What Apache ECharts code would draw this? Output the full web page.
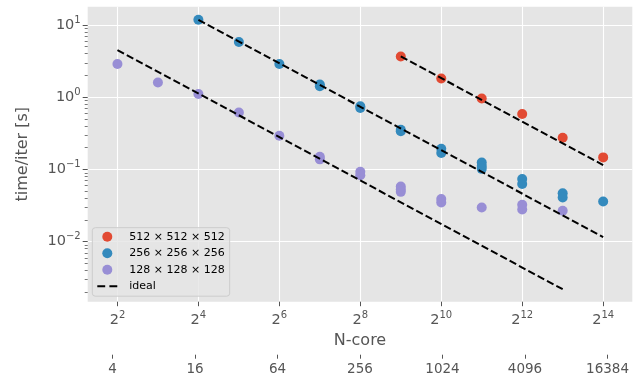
<!DOCTYPE html>
<html>
<head>
<meta charset="utf-8">
<script src="https://cdn.jsdelivr.net/npm/echarts@6/dist/echarts.min.js"></script>
<style>
  html, body { margin: 0; padding: 0; background: #fff; }
  #chart { width: 641px; height: 380px; }
</style>
</head>
<body>
<div id="chart"></div>
<script>
// strong scaling: number of cores vs seconds per iteration
const cores512 = [512, 1024, 2048, 4096, 8192, 16384];
const time512 = [3.67, 1.82, 0.962, 0.585, 0.275, 0.147];

const cores256 = [16, 32, 64, 128, 128, 256, 256, 512, 512, 1024, 1024, 2048, 2048, 2048, 4096, 4096, 8192, 8192, 16384];
const time256 = [11.8, 5.8, 2.88, 1.5, 1.42, 0.75, 0.71, 0.355, 0.338, 0.194, 0.169, 0.125, 0.112, 0.102, 0.074, 0.063, 0.047, 0.041, 0.036];

const cores128 = [4, 8, 16, 32, 64, 128, 128, 256, 256, 512, 512, 512, 1024, 1024, 2048, 4096, 4096, 8192];
const time128 = [2.88, 1.6, 1.11, 0.616, 0.293, 0.15, 0.138, 0.093, 0.083, 0.058, 0.053, 0.049, 0.039, 0.035, 0.0298, 0.0325, 0.028, 0.0268];

// ideal scaling lines, start and end point of each
const idealCores = [[512, 16384], [16, 16384], [4, 8192]];
const idealTime = [[3.67, 0.115], [11.8, 0.0116], [4.5, 0.0022]];

const seriesNames = ["512 × 512 × 512", "256 × 256 × 256", "128 × 128 × 128"];
const xTicks = [4, 16, 64, 256, 1024, 4096, 16384];
const yTicks = [0.01, 0.1, 1, 10];

const colors = ["#E24A33", "#348ABD", "#988ED5"];
const FONT = "DejaVu Sans";
const GREY = "#555555";

// minor log ticks 2..9 per decade
const yMinor = [];
[0.001, 0.01, 0.1, 1].forEach(d => {
  for (let k = 2; k <= 9; k++) yMinor.push(+(d * k).toPrecision(3));
});

const rich = {
  b: { fontFamily: FONT, fontSize: 14.5, color: GREY, lineHeight: 20 },
  s: { fontFamily: FONT, fontSize: 10, color: GREY, lineHeight: 10, verticalAlign: "top" },
};
const supX = v => "{b|2}{s|" + Math.round(Math.log2(v)) + "}";
const supY = v => {
  const e = Math.round(Math.log10(v));
  return "{b|10}{s|" + (e < 0 ? "\u2212" + (-e) : e) + "}";
};

const xMin = Math.pow(2, 1.265), xMax = Math.pow(2, 14.72);
const yMin = Math.pow(10, -2.83), yMax = Math.pow(10, 1.253);
const GRID_LEFT = 87.7, LABEL_MARGIN = 7;

const chart = echarts.init(document.getElementById("chart"));

const scatter = [[cores512, time512], [cores256, time256], [cores128, time128]].map(([c, t], i) => ({
  name: seriesNames[i],
  type: "scatter",
  symbolSize: 10,
  z: 2,
  itemStyle: { color: colors[i], opacity: 1 },
  data: c.map((n, j) => [n, t[j]]),
}));

const ideal = idealCores.map((c, i) => ({
  name: "ideal",
  type: "line",
  symbol: "none",
  z: 3,
  silent: true,
  itemStyle: { color: "#000" },
  lineStyle: { color: "#000", width: 2, type: [7.4, 3.2] },
  data: c.map((n, j) => [n, idealTime[i][j]]),
}));

chart.setOption({
  animation: false,
  backgroundColor: "#ffffff",
  textStyle: { fontFamily: FONT },
  grid: { left: GRID_LEFT, right: 8.7, top: 6.7, bottom: 78.3, show: true, backgroundColor: "#E5E5E5", borderWidth: 0 },
  legend: {
    orient: "vertical",
    left: 92.3,
    top: 227.7,
    padding: [3, 5, 4, 5],
    itemWidth: 20,
    itemHeight: 10,
    itemGap: 4.5,
    symbolKeepAspect: true,
    backgroundColor: "rgba(229,229,229,0.8)",
    borderColor: "#CCCCCC",
    borderWidth: 1,
    borderRadius: 3,
    formatter: n => "  " + n,
    textStyle: { fontFamily: FONT, fontSize: 11, color: "#000", lineHeight: 12 },
    data: seriesNames.map(n => ({ name: n, icon: "circle" })).concat([
      { name: "ideal", icon: "path://M0,0h7.5v2h-7.5z M11.5,0h7.5v2h-7.5z" },
    ]),
  },
  xAxis: [{
    type: "log",
    logBase: 2,
    position: "bottom",
    offset: 0,
    min: xMin,
    max: xMax,
    name: "N-core",
    nameLocation: "middle",
    nameGap: 31,
    nameTextStyle: { fontFamily: FONT, fontSize: 16, color: GREY, verticalAlign: "top" },
    axisLine: { show: false },
    axisTick: { show: true, length: 4.5, lineStyle: { color: GREY, width: 1 }, customValues: xTicks },
    axisLabel: { margin: 9, customValues: xTicks, formatter: supX, rich: rich },
    splitLine: { show: true, lineStyle: { color: "#ffffff", width: 1.1 } },
  }, {
    type: "log",
    logBase: 2,
    position: "bottom",
    offset: 53,
    min: Math.pow(2, 1.4),
    max: Math.pow(2, 14.6),
    axisLine: { show: false },
    axisTick: { show: true, length: 4, lineStyle: { color: GREY, width: 1 }, customValues: xTicks },
    axisLabel: { margin: 7.5, customValues: xTicks, fontFamily: FONT, fontSize: 13.5, color: GREY, formatter: v => String(Math.round(v)) },
    splitLine: { show: false },
  }],
  yAxis: [{
    type: "log",
    logBase: 10,
    position: "left",
    offset: 0,
    min: yMin,
    max: yMax,
    name: "time/iter [s]",
    nameLocation: "middle",
    nameGap: 57,
    nameTextStyle: { fontFamily: FONT, fontSize: 16, color: GREY },
    axisLine: { show: false },
    axisTick: { show: true, length: 5, lineStyle: { color: GREY, width: 1 }, customValues: yTicks },
    axisLabel: { margin: LABEL_MARGIN, customValues: yTicks, formatter: supY, rich: rich },
    splitLine: { show: true, lineStyle: { color: "#ffffff", width: 1.1 } },
  }, {
    type: "log",
    logBase: 10,
    position: "left",
    offset: 0,
    min: yMin,
    max: yMax,
    axisLine: { show: false },
    axisTick: { show: true, length: 3, lineStyle: { color: GREY, width: 0.8 }, customValues: yMinor },
    axisLabel: { show: false },
    splitLine: { show: false },
  }],
  series: scatter.concat(ideal),
});

// the y labels sometimes land left of where they belong; measure and pull them back
function yLabelRight() {
  let right = null;
  chart.getZr().storage.getDisplayList(true).forEach(el => {
    const txt = el.style && el.style.text;
    if (el.type === "text" && typeof txt === "string" && txt.indexOf("{b|10}") === 0) {
      const r = el.getBoundingRect().clone();
      const m = el.getComputedTransform();
      if (m) r.applyTransform(m);
      if (right === null || r.x + r.width > right) right = r.x + r.width;
    }
  });
  return right;
}
try {
  const right = yLabelRight();
  const want = GRID_LEFT - LABEL_MARGIN;
  if (right !== null && Math.abs(right - want) > 2) {
    const off = -(want - right);
    chart.setOption({ yAxis: [{ offset: off }, { offset: off }] });
  }
} catch (e) {
  console.error(e);
}
</script>
</body>
</html>
